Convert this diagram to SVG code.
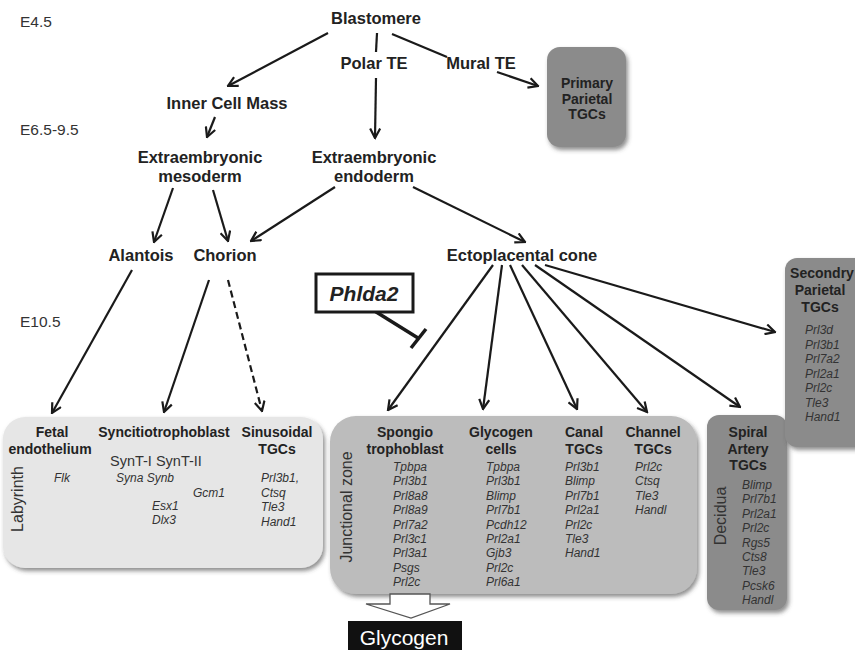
<svg xmlns="http://www.w3.org/2000/svg" width="855" height="650" viewBox="0 0 855 650">
<defs>
<style>
.lb{font-family:"Liberation Sans",Arial,sans-serif;font-weight:bold;font-size:16.5px;fill:#222;text-anchor:middle}
.hd{font-family:"Liberation Sans",Arial,sans-serif;font-weight:bold;font-size:14px;fill:#222;text-anchor:middle}
.st{font-family:"Liberation Sans",Arial,sans-serif;font-size:15.5px;fill:#333}
.gn{font-family:"Liberation Sans",Arial,sans-serif;font-style:italic;font-size:12px;fill:#333}
.rt{font-family:"Liberation Sans",Arial,sans-serif;font-size:16px;fill:#333;text-anchor:middle}
.ln{fill:none;stroke:#1a1a1a;stroke-width:2.2}
.ar{fill:none;stroke:#1a1a1a;stroke-width:2.2;marker-end:url(#ah)}
</style>
<marker id="ah" viewBox="0 0 12 12" refX="10.5" refY="6" markerWidth="12" markerHeight="12" markerUnits="userSpaceOnUse" orient="auto">
<path d="M1,1 L10.5,6 L1,11" fill="none" stroke="#1a1a1a" stroke-width="2.2"/>
</marker>
<filter id="sh" x="-10%" y="-10%" width="130%" height="130%">
<feDropShadow dx="2" dy="3" stdDeviation="2" flood-color="#444" flood-opacity="0.6"/>
</filter>
</defs>
<rect width="855" height="650" fill="#fff"/>

<g id="stages">
<text class="st" x="20" y="27">E4.5</text>
<text class="st" x="20" y="135">E6.5-9.5</text>
<text class="st" x="20" y="327">E10.5</text>
</g>

<g id="connectors">
<path class="ar" d="M328,33 L228,86"/>
<path class="ln" d="M377,33 L376,52"/>
<path class="ln" d="M392,34 L447,57"/>
<path class="ar" d="M497,72 L538,86"/>
<path class="ar" d="M376,78 L375,138"/>
<path class="ar" d="M215,117 L207,137"/>
<path class="ar" d="M173,188 L154,242"/>
<path class="ar" d="M213,190 L228,241"/>
<path class="ar" d="M335,187 L251,241"/>
<path class="ar" d="M413,187 L525,242"/>
<path class="ar" d="M132,270 L52,413"/>
<path class="ar" d="M209,280 L164,412"/>
<path class="ar" d="M228,280 L262,411" stroke-dasharray="7,4"/>
<path class="ar" d="M493,265 L388,410"/>
<path class="ar" d="M502,265 L483,409"/>
<path class="ar" d="M510,265 L577,409"/>
<path class="ar" d="M522,265 L647,412"/>
<path class="ar" d="M535,265 L740,407"/>
<path class="ar" d="M545,265 L775,332"/>
<path d="M373,310 L418,338" fill="none" stroke="#1a1a1a" stroke-width="3.5"/>
<path d="M426,329 L411,348" fill="none" stroke="#1a1a1a" stroke-width="3.5"/>
</g>

<g id="blastomere"><text class="lb" x="376" y="24">Blastomere</text></g>
<g id="polar-te"><text class="lb" x="374" y="69">Polar TE</text></g>
<g id="mural-te"><text class="lb" x="481" y="69">Mural TE</text></g>
<g id="primary-parietal">
<rect x="547" y="47" width="79" height="100" rx="13" fill="#8b8b8b" filter="url(#sh)"/>
<text class="hd" x="587" y="88">Primary</text>
<text class="hd" x="587" y="104">Parietal</text>
<text class="hd" x="587" y="119">TGCs</text>
</g>
<g id="icm"><text class="lb" x="227" y="109">Inner Cell Mass</text></g>
<g id="ex-mesoderm">
<text class="lb" x="200" y="163">Extraembryonic</text>
<text class="lb" x="200" y="182">mesoderm</text>
</g>
<g id="ex-endoderm">
<text class="lb" x="374" y="163">Extraembryonic</text>
<text class="lb" x="374" y="182">endoderm</text>
</g>
<g id="alantois"><text class="lb" x="141" y="261">Alantois</text></g>
<g id="chorion"><text class="lb" x="225" y="261">Chorion</text></g>
<g id="ectoplacental"><text class="lb" x="522" y="261">Ectoplacental cone</text></g>
<g id="phlda2">
<rect x="316" y="274" width="97" height="38" fill="#fff" stroke="#1a1a1a" stroke-width="3"/>
<text x="364" y="301" font-family="'Liberation Sans',Arial,sans-serif" font-weight="bold" font-style="italic" font-size="21" fill="#222" text-anchor="middle">Phlda2</text>
</g>

<g id="labyrinth">
<rect x="3" y="417" width="320" height="151" rx="22" fill="#e6e6e6" filter="url(#sh)"/>
<text class="rt" transform="translate(23,499) rotate(-90)">Labyrinth</text>
<text class="hd" x="52" y="437">Fetal</text>
<text class="hd" x="50" y="454">endothelium</text>
<text class="hd" x="164" y="437">Syncitiotrophoblast</text>
<text class="hd" x="277" y="437">Sinusoidal</text>
<text class="hd" x="277" y="454">TGCs</text>
<text x="110" y="466" font-family="'Liberation Sans',Arial,sans-serif" font-size="14.5" fill="#333">SynT-I SynT-II</text>
<text class="gn" x="54" y="482">Flk</text>
<text class="gn" x="116" y="482">Syna Synb</text>
<text class="gn" x="193" y="497">Gcm1</text>
<text class="gn" x="152" y="510">Esx1</text>
<text class="gn" x="152" y="524">Dlx3</text>
<text class="gn" x="261" y="482">Prl3b1,</text>
<text class="gn" x="261" y="497">Ctsq</text>
<text class="gn" x="261" y="511">Tle3</text>
<text class="gn" x="261" y="526">Hand1</text>
</g>

<g id="junctional">
<rect x="330" y="416" width="367" height="178" rx="26" fill="#bcbcbc" filter="url(#sh)"/>
<text class="rt" transform="translate(352,507) rotate(-90)">Junctional zone</text>
<text class="hd" x="405" y="437">Spongio</text>
<text class="hd" x="405" y="454">trophoblast</text>
<text class="gn" x="393" y="471">Tpbpa</text>
<text class="gn" x="393" y="485.4">Prl3b1</text>
<text class="gn" x="393" y="499.8">Prl8a8</text>
<text class="gn" x="393" y="514.2">Prl8a9</text>
<text class="gn" x="393" y="528.6">Prl7a2</text>
<text class="gn" x="393" y="543">Prl3c1</text>
<text class="gn" x="393" y="557.4">Prl3a1</text>
<text class="gn" x="393" y="571.8">Psgs</text>
<text class="gn" x="393" y="586.2">Prl2c</text>
<text class="hd" x="501" y="437">Glycogen</text>
<text class="hd" x="501" y="454">cells</text>
<text class="gn" x="486" y="471">Tpbpa</text>
<text class="gn" x="486" y="485.4">Prl3b1</text>
<text class="gn" x="486" y="499.8">Blimp</text>
<text class="gn" x="486" y="514.2">Prl7b1</text>
<text class="gn" x="486" y="528.6">Pcdh12</text>
<text class="gn" x="486" y="543">Prl2a1</text>
<text class="gn" x="486" y="557.4">Gjb3</text>
<text class="gn" x="486" y="571.8">Prl2c</text>
<text class="gn" x="486" y="586.2">Prl6a1</text>
<text class="hd" x="584" y="437">Canal</text>
<text class="hd" x="584" y="454">TGCs</text>
<text class="gn" x="565" y="471">Prl3b1</text>
<text class="gn" x="565" y="485.4">Blimp</text>
<text class="gn" x="565" y="499.8">Prl7b1</text>
<text class="gn" x="565" y="514.2">Prl2a1</text>
<text class="gn" x="565" y="528.6">Prl2c</text>
<text class="gn" x="565" y="543">Tle3</text>
<text class="gn" x="565" y="557.4">Hand1</text>
<text class="hd" x="653" y="437">Channel</text>
<text class="hd" x="653" y="454">TGCs</text>
<text class="gn" x="635" y="471">Prl2c</text>
<text class="gn" x="635" y="485.4">Ctsq</text>
<text class="gn" x="635" y="499.8">Tle3</text>
<text class="gn" x="635" y="514.2">Handl</text>
</g>

<g id="glycogen-output">
<polygon points="390,594 430,594 430,604 450,604 411,618 366,604 390,604" fill="#fff" stroke="#555" stroke-width="1.3"/>
<rect x="348" y="621" width="114" height="35" fill="#111"/>
<text x="404" y="645" font-family="'Liberation Sans',Arial,sans-serif" font-size="21" fill="#fff" text-anchor="middle">Glycogen</text>
</g>

<g id="decidua">
<rect x="707" y="415" width="80" height="195" rx="12" fill="#8b8b8b" filter="url(#sh)"/>
<text class="rt" font-size="16.5" transform="translate(726,516) rotate(-90)">Decidua</text>
<text class="hd" x="748" y="437">Spiral</text>
<text class="hd" x="748" y="454">Artery</text>
<text class="hd" x="748" y="470">TGCs</text>
<text class="gn" x="742" y="489">Blimp</text>
<text class="gn" x="742" y="503.4">Prl7b1</text>
<text class="gn" x="742" y="517.8">Prl2a1</text>
<text class="gn" x="742" y="532.2">Prl2c</text>
<text class="gn" x="742" y="546.6">Rgs5</text>
<text class="gn" x="742" y="561">Cts8</text>
<text class="gn" x="742" y="575.4">Tle3</text>
<text class="gn" x="742" y="589.8">Pcsk6</text>
<text class="gn" x="742" y="604.2">Handl</text>
</g>

<g id="secondary-parietal">
<rect x="785" y="258" width="90" height="189" rx="12" fill="#8b8b8b" filter="url(#sh)"/>
<text class="hd" x="822" y="278">Secondry</text>
<text class="hd" x="820" y="295">Parietal</text>
<text class="hd" x="820" y="312">TGCs</text>
<text class="gn" x="805" y="334">Prl3d</text>
<text class="gn" x="805" y="348.5">Prl3b1</text>
<text class="gn" x="805" y="363">Prl7a2</text>
<text class="gn" x="805" y="377.5">Prl2a1</text>
<text class="gn" x="805" y="392">Prl2c</text>
<text class="gn" x="805" y="406.5">Tle3</text>
<text class="gn" x="805" y="421">Hand1</text>
</g>
</svg>
